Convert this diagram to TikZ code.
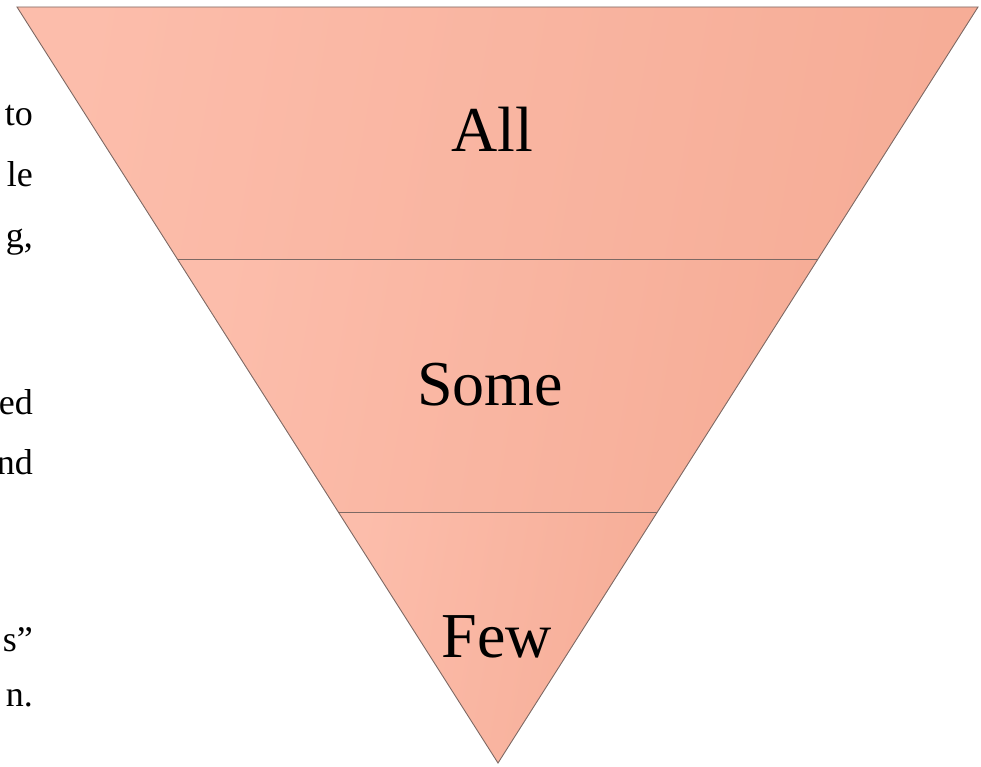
\documentclass[tikz,border=0pt]{standalone}
\usepackage{fontspec}
\setmainfont{Liberation Serif}
\usetikzlibrary{calc}
\definecolor{bandlight}{RGB}{252,189,171}
\definecolor{banddark}{RGB}{246,173,151}
\definecolor{bandedge}{RGB}{125,105,100}
\definecolor{textblack}{RGB}{0,0,0}

\begin{document}
\begin{tikzpicture}[
    x=1pt, y=-1pt,
    bandtext/.style={text=textblack, font=\fontsize{64}{76}\selectfont, inner sep=0pt, anchor=base},
    sidetext/.style={text=textblack, font=\fontsize{36}{43}\selectfont, inner sep=0pt, anchor=base east}
]

% Canvas
\useasboundingbox (0,0) rectangle (981,767);

% Corners of the inverted triangle
\coordinate (TL) at (17,7);
\coordinate (TR) at (978,7);
\coordinate (APEX) at (498,763);

% Band dividers
\coordinate (L1) at ($(TL)!0.3333!(APEX)$);
\coordinate (R1) at ($(TR)!0.3333!(APEX)$);
\coordinate (L2) at ($(TL)!0.668!(APEX)$);
\coordinate (R2) at ($(TR)!0.668!(APEX)$);

% Bands
\shade[left color=bandlight, right color=banddark, shading angle=80] (TL) -- (TR) -- (R1) -- (L1) -- cycle;
\shade[left color=bandlight, right color=banddark, shading angle=80] (L1) -- (R1) -- (R2) -- (L2) -- cycle;
\shade[left color=bandlight, right color=banddark, shading angle=80] (L2) -- (R2) -- (APEX) -- cycle;

% Outlines
\draw[bandedge, line width=0.9pt] (TL) -- (TR) -- (APEX) -- cycle;
\draw[bandedge, line width=0.9pt] (L1) -- (R1);
\draw[bandedge, line width=0.9pt] (L2) -- (R2);

% Band labels
\node[bandtext] (all) at (492,152) {All};
\node[bandtext] (some) at (490,405) {Some};
\node[bandtext] (few) at (497,657) {Few};

% Cut-off page text on the left
\node[sidetext] (line1) at (33,126) {to};
\node[sidetext] (line2) at (33,187) {le};
\node[sidetext] (line3) at (33,247) {g,};
\node[sidetext] (line4) at (33,414) {ed};
\node[sidetext] (line5) at (33,474) {nd};
\node[sidetext] (line6) at (33,651) {s”};
\node[sidetext] (line7) at (33,706) {n.};

\end{tikzpicture}
\end{document}
